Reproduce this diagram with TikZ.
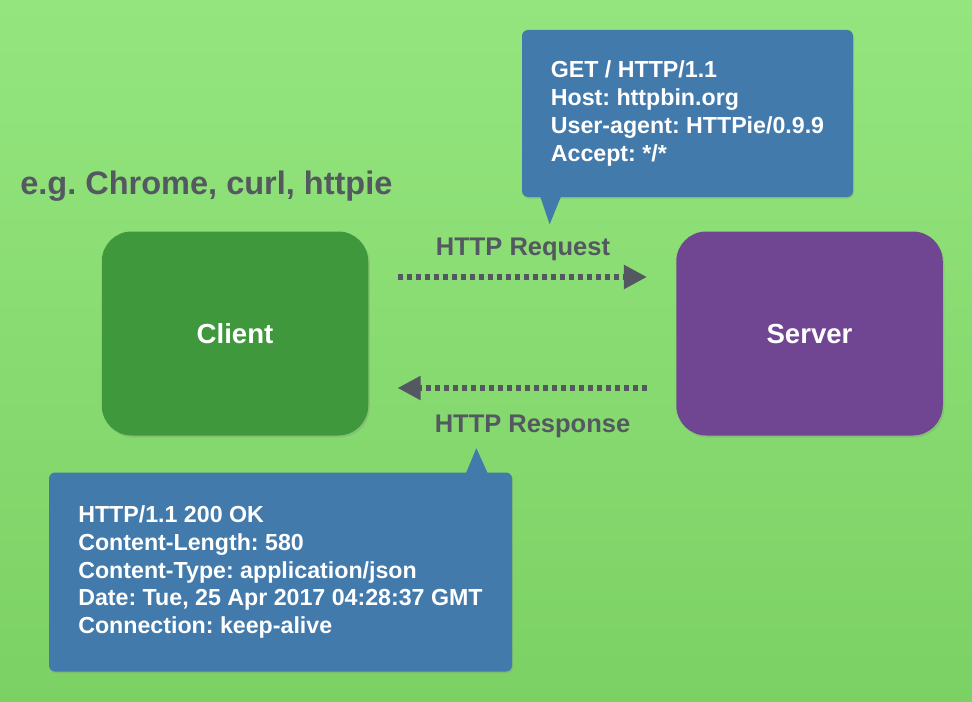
\documentclass[tikz,border=0pt]{standalone}
\usepackage{fontspec}
\setmainfont{Liberation Sans}
\frenchspacing
\usetikzlibrary{arrows.meta,shadows}
\definecolor{bgtop}{RGB}{148,229,126}
\definecolor{bgbottom}{RGB}{124,209,100}
\definecolor{clientgreen}{RGB}{64,152,60}
\definecolor{serverpurple}{RGB}{112,70,146}
\definecolor{bubbleblue}{RGB}{66,122,172}
\definecolor{labelgray}{RGB}{84,88,96}

\begin{document}
\begin{tikzpicture}[>=Stealth,
    machine/.style={rounded corners=0.6cm, minimum width=5.33cm, minimum height=4.08cm,
        text=white, font=\fontsize{15.7}{19}\selectfont\bfseries,
        drop shadow={opacity=0.25, shadow xshift=0.03cm, shadow yshift=-0.04cm}},
    bubble/.style={fill=bubbleblue, rounded corners=0.12cm, text=white, align=left,
        font=\fontsize{13.2}{15.9}\selectfont\bfseries,
        drop shadow={opacity=0.25, shadow xshift=0.02cm, shadow yshift=-0.03cm}},
    msg/.style={line width=0.105cm, labelgray, dash pattern=on 0.1cm off 0.08cm,
        shorten <=0.58cm, shorten >=0.58cm, -{Triangle[length=0.46cm, width=0.46cm]}},
    msglabel/.style={text=labelgray, inner sep=0pt, anchor=base, font=\fontsize{14.5}{17}\selectfont\bfseries}]
    % Background
    \shade [top color=bgtop, bottom color=bgbottom] (0,0) rectangle (19.44,14.02);
    \useasboundingbox (0,0) rectangle (19.44,14.02);

    % Client and server
    \node [machine, fill=clientgreen] (client) at (4.70,7.35) {Client};
    \node [machine, fill=serverpurple] (server) at (16.19,7.35) {Server};
    \node [text=labelgray, inner sep=0pt, anchor=base west, font=\fontsize{18.5}{22}\selectfont\bfseries]
        (examples) at (0.40,10.12) {e.g. Chrome, curl, httpie};

    % Request and response
    \draw [msg] ([yshift=1.13cm]client.east) -- ([yshift=1.13cm]server.west);
    \node [msglabel] (reqlabel) at (10.46,8.92) {HTTP Request};
    \draw [msg] ([yshift=-1.09cm]server.west) -- ([yshift=-1.09cm]client.east);
    \node [msglabel] (reslabel) at (10.65,5.38) {HTTP Response};

    % Request bubble
    \node [bubble, minimum width=6.62cm, minimum height=3.34cm] (request) at (13.75,11.75)
        {GET / HTTP/1.1\\Host: httpbin.org\\User-agent: HTTPie/0.9.9\\Accept: */*};
    \fill [bubbleblue] ([xshift=0.36cm, yshift=0.05cm]request.south west)
        -- ([xshift=0.56cm, yshift=-0.54cm]request.south west)
        -- ([xshift=0.80cm, yshift=0.05cm]request.south west) -- cycle;

    % Response bubble
    \node [bubble, minimum width=9.26cm, minimum height=3.98cm] (response) at (5.61,2.58)
        {HTTP/1.1 200 OK\\Content-Length: 580\\Content-Type: application/json\\Date: Tue, 25 Apr 2017 04:28:37 GMT\\Connection: keep-alive};
    \fill [bubbleblue] ([xshift=-0.94cm, yshift=-0.05cm]response.north east)
        -- ([xshift=-0.72cm, yshift=0.48cm]response.north east)
        -- ([xshift=-0.48cm, yshift=-0.05cm]response.north east) -- cycle;
\end{tikzpicture}
\end{document}
